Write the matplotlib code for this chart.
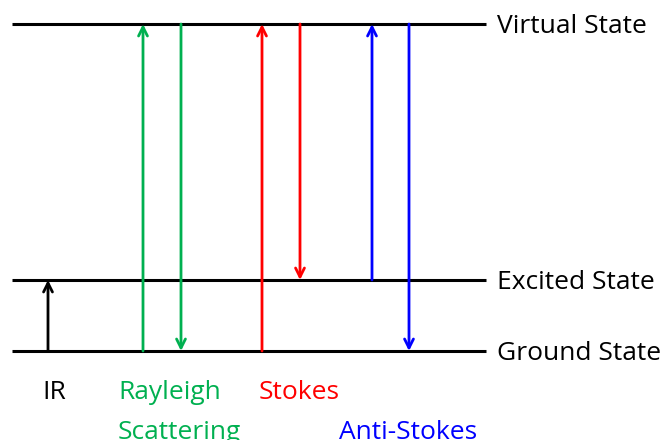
import matplotlib
matplotlib.use("Agg")
from matplotlib import pyplot as plt

# energy levels (pixel rows of the picture)
level_names = ["Virtual State", "Excited State", "Ground State"]
level_y = [24, 280, 351]

# transitions: x position, start level, end level, colour
arrow_x = [48, 143, 181, 262, 300, 372, 409]
arrow_from = [351, 351, 24, 351, 24, 280, 24]
arrow_to = [280, 24, 351, 24, 280, 24, 351]
arrow_col = ["black", "#00b050", "#00b050", "red", "red", "blue", "blue"]

# process labels, one entry per text line (baseline rows)
label_text = ["IR", "Rayleigh", "Scattering", "Stokes", "Anti-Stokes"]
label_x = [42, 118, 118, 259, 339]
label_y = [399, 399, 439, 399, 439]
label_col = ["black", "#00b050", "#00b050", "red", "blue"]

plt.rcParams['font.family'] = ['Open Sans', 'DejaVu Sans']

fig = plt.figure(figsize=(6.62, 4.4), dpi=100)
ax = fig.add_axes([0, 0, 1, 1])
ax.set_xlim(0, 662)
ax.set_ylim(440, 0)
ax.axis("off")

for name, y in zip(level_names, level_y):
    ax.plot([12, 486], [y, y], color="black", lw=2.2, solid_capstyle="butt")
    ax.text(497, y + 9, name, fontsize=19, va="baseline", ha="left")

for x, y0, y1, c in zip(arrow_x, arrow_from, arrow_to, arrow_col):
    ax.annotate("", xy=(x, y1), xytext=(x, y0),
                arrowprops=dict(arrowstyle="->", color=c, lw=2,
                                mutation_scale=16, shrinkA=0, shrinkB=0))

for t, x, y, c in zip(label_text, label_x, label_y, label_col):
    ax.text(x, y, t, color=c, fontsize=19, va="baseline", ha="left")

fig.savefig("out.png", dpi=100)
